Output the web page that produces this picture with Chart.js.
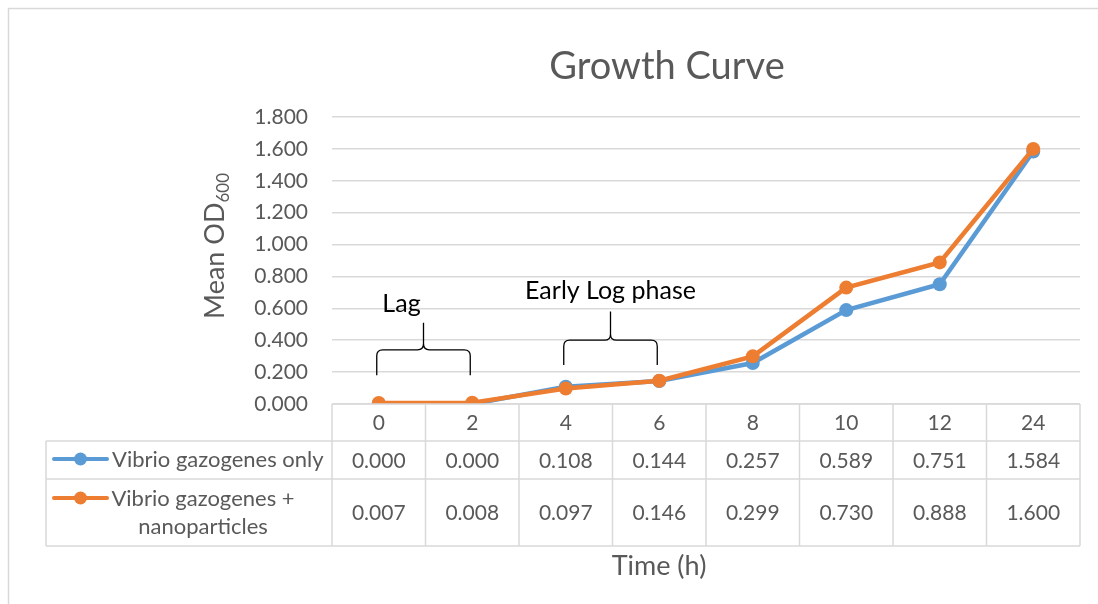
<!DOCTYPE html>
<html>
<head>
<meta charset="utf-8">
<script src="https://cdn.jsdelivr.net/npm/chart.js@4"></script>
<style>
  html, body { margin: 0; padding: 0; background: #ffffff; }
  #wrap { width: 1098px; height: 604px; position: relative; }
</style>
</head>
<body>
<div id="wrap"><canvas id="c"></canvas></div>
<script>
// ---- data ----
const categories = ['0', '2', '4', '6', '8', '10', '12', '24'];
const seriesNames = ['Vibrio gazogenes only', 'Vibrio gazogenes + nanoparticles'];
const vibrioOnly = [0.000, 0.000, 0.108, 0.144, 0.257, 0.589, 0.751, 1.584];
const vibrioNano = [0.007, 0.008, 0.097, 0.146, 0.299, 0.730, 0.888, 1.600];
const yMin = 0, yMax = 1.8, yStep = 0.2;
const chartTitle = 'Growth Curve';
const xTitle = 'Time (h)';
const yTitleMain = 'Mean OD';
const yTitleSub = '600';
// phase annotations (braces spanning category indices, heights in data units)
const phaseLabels = ['Lag', 'Early Log phase'];
const phaseFrom = [0, 2];
const phaseTo = [1, 3];
const phaseEnd = [0.18, 0.245];
const phaseBar = [0.34, 0.40];
const phaseTip = [0.51, 0.58];
const phaseText = [0.63, 0.71];
const phaseShift = [-22, 0];

const BLUE = '#5B9BD5', ORANGE = '#ED7D31';
const GRID = '#D9D9D9', TXT = '#595959';
const FONT = 'Lato, "Open Sans", sans-serif';

const fmt = v => v.toFixed(3);

const extras = {
  id: 'extras',
  beforeDraw(chart) {
    const ctx = chart.ctx;
    ctx.save();
    ctx.fillStyle = '#fff';
    ctx.fillRect(0, 0, chart.width, chart.height);
    ctx.strokeStyle = GRID;
    ctx.lineWidth = 1.5;
    ctx.strokeRect(8.5, 8.5, chart.width + 20, chart.height + 20);
    ctx.restore();
  },
  afterDraw(chart) {
    const ctx = chart.ctx;
    const x = chart.scales.x, y = chart.scales.y;
    const area = chart.chartArea;
    ctx.save();
    // title
    ctx.fillStyle = TXT;
    ctx.font = '38px ' + FONT;
    ctx.textAlign = 'center';
    ctx.textBaseline = 'middle';
    ctx.fillText(chartTitle, 667, 67);
    // y title with subscript
    ctx.save();
    ctx.translate(214, 246);
    ctx.rotate(-Math.PI / 2);
    ctx.font = '27px ' + FONT;
    const wMain = ctx.measureText(yTitleMain).width;
    ctx.font = '17px ' + FONT;
    const wSub = ctx.measureText(yTitleSub).width;
    const total = wMain + wSub;
    ctx.textAlign = 'left';
    ctx.textBaseline = 'alphabetic';
    ctx.font = '27px ' + FONT;
    ctx.fillText(yTitleMain, -total / 2, 10);
    ctx.font = '17px ' + FONT;
    ctx.fillText(yTitleSub, -total / 2 + wMain, 15);
    ctx.restore();

    // data table
    const n = categories.length;
    const colW = (area.right - area.left) / n;
    const tLeft = 46, rowH0 = area.bottom, rowH1 = 441, rowH2 = 479, rowH3 = 546;
    ctx.strokeStyle = GRID;
    ctx.lineWidth = 1.5;
    ctx.beginPath();
    ctx.moveTo(area.left, rowH0); ctx.lineTo(area.right, rowH0);
    ctx.moveTo(tLeft, rowH1); ctx.lineTo(area.right, rowH1);
    ctx.moveTo(tLeft, rowH2); ctx.lineTo(area.right, rowH2);
    ctx.moveTo(tLeft, rowH3); ctx.lineTo(area.right, rowH3);
    ctx.moveTo(tLeft, rowH1); ctx.lineTo(tLeft, rowH3);
    for (let i = 0; i <= n; i++) {
      const xx = area.left + i * colW;
      ctx.moveTo(xx, rowH0); ctx.lineTo(xx, rowH3);
    }
    ctx.stroke();

    // values
    ctx.fillStyle = TXT;
    ctx.font = '21px ' + FONT;
    ctx.textAlign = 'center';
    ctx.textBaseline = 'middle';
    const rows = [vibrioOnly, vibrioNano];
    const rowCenters = [(rowH1 + rowH2) / 2, (rowH2 + rowH3) / 2];
    rows.forEach((vals, r) => {
      vals.forEach((v, i) => {
        ctx.fillText(fmt(v), x.getPixelForValue(i), rowCenters[r] + 1);
      });
    });

    // legend keys
    const drawKey = (color, cy) => {
      ctx.strokeStyle = color;
      ctx.lineWidth = 4;
      ctx.lineCap = 'round';
      ctx.beginPath();
      ctx.moveTo(54, cy); ctx.lineTo(107, cy);
      ctx.stroke();
      ctx.fillStyle = color;
      ctx.beginPath();
      ctx.arc(80.5, cy, 6.5, 0, Math.PI * 2);
      ctx.fill();
    };
    drawKey(BLUE, 459);
    ctx.fillStyle = TXT;
    ctx.font = '22px ' + FONT;
    ctx.textAlign = 'left';
    ctx.fillText(seriesNames[0], 112, 460);
    drawKey(ORANGE, 498);
    ctx.fillStyle = TXT;
    ctx.font = '22px ' + FONT;
    ctx.textAlign = 'center';
    ctx.fillText('Vibrio gazogenes +', 203, 499);
    ctx.fillText('nanoparticles', 203, 527);

    // x title
    ctx.font = '27px ' + FONT;
    ctx.fillText(xTitle, 659, 566);

    // phase annotations (braces)
    ctx.strokeStyle = '#000';
    ctx.lineWidth = 1.3;
    ctx.lineCap = 'butt';
    for (let k = 0; k < phaseLabels.length; k++) {
      const xa = x.getPixelForValue(phaseFrom[k]) - 2;
      const xb = x.getPixelForValue(phaseTo[k]) - 2;
      const yEnd = y.getPixelForValue(phaseEnd[k]);
      const yBar = y.getPixelForValue(phaseBar[k]);
      const yTip = y.getPixelForValue(phaseTip[k]);
      const xm = (xa + xb) / 2;
      const r = 6;
      ctx.beginPath();
      ctx.moveTo(xa, yEnd);
      ctx.lineTo(xa, yBar + r);
      ctx.quadraticCurveTo(xa, yBar, xa + r, yBar);
      ctx.lineTo(xm - r, yBar);
      ctx.quadraticCurveTo(xm, yBar, xm, yBar - r);
      ctx.lineTo(xm, yTip);
      ctx.moveTo(xm, yBar - r);
      ctx.quadraticCurveTo(xm, yBar, xm + r, yBar);
      ctx.lineTo(xb - r, yBar);
      ctx.quadraticCurveTo(xb, yBar, xb, yBar + r);
      ctx.lineTo(xb, yEnd);
      ctx.stroke();
      ctx.fillStyle = '#000';
      ctx.font = '25px ' + FONT;
      ctx.textAlign = 'center';
      ctx.textBaseline = 'middle';
      ctx.fillText(phaseLabels[k], xm + phaseShift[k], y.getPixelForValue(phaseText[k]));
    }
    ctx.restore();
  }
};

new Chart(document.getElementById('c'), {
  type: 'line',
  data: {
    labels: categories,
    datasets: [
      {
        label: seriesNames[0], data: vibrioOnly,
        borderColor: BLUE, backgroundColor: BLUE,
        borderWidth: 4.5, pointRadius: 7, pointHoverRadius: 7,
        pointBorderWidth: 0, tension: 0, order: 2
      },
      {
        label: seriesNames[1], data: vibrioNano,
        borderColor: ORANGE, backgroundColor: ORANGE,
        borderWidth: 4.5, pointRadius: 7, pointHoverRadius: 7,
        pointBorderWidth: 0, tension: 0, order: 1
      }
    ]
  },
  options: {
    responsive: true,
    maintainAspectRatio: false,
    animation: false,
    devicePixelRatio: 1,
    layout: { padding: { top: 117, right: 18, left: 0, bottom: 0 } },
    plugins: { legend: { display: false }, tooltip: { enabled: false }, title: { display: false } },
    scales: {
      x: {
        offset: true,
        grid: { display: false, drawTicks: false },
        border: { display: false },
        ticks: { color: TXT, font: { family: FONT, size: 21 }, padding: 7, maxRotation: 0 },
        afterFit: s => { s.height = 200; }
      },
      y: {
        min: yMin, max: yMax,
        grid: { color: GRID, lineWidth: 1.5, drawTicks: false },
        border: { display: false },
        ticks: {
          stepSize: yStep, color: TXT, font: { family: FONT, size: 21 }, padding: 24,
          callback: v => fmt(v)
        },
        afterFit: s => { s.width = 332; }
      }
    }
  },
  plugins: [extras]
});
</script>
</body>
</html>
